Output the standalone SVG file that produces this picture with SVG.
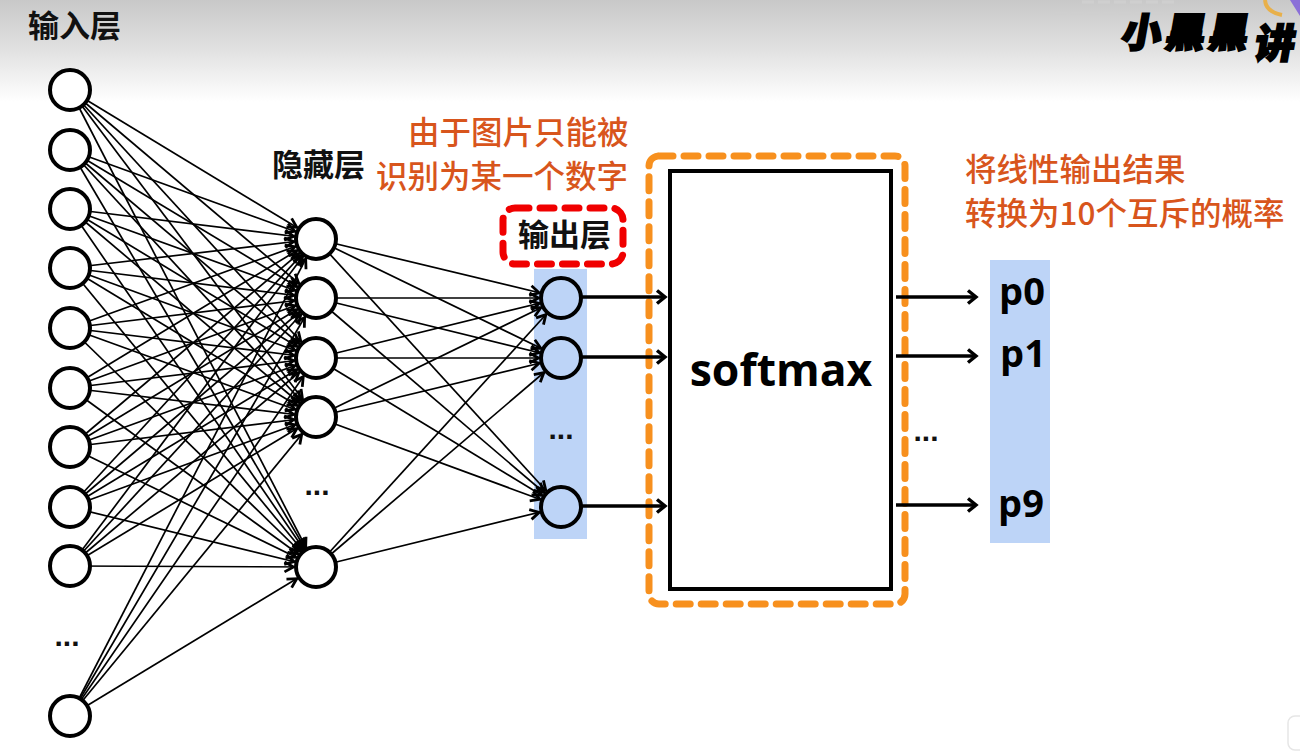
<svg xmlns="http://www.w3.org/2000/svg" width="1300" height="756" viewBox="0 0 1300 756">
<style>
.l{stroke:#000;stroke-width:1.7;fill:none;marker-end:url(#a)}
.t{stroke:#000;stroke-width:3.4;fill:none;marker-end:url(#b)}
.n{fill:#fff;stroke:#000;stroke-width:4}
.o{fill:#bdd4f7;stroke:#000;stroke-width:4}
.h{font-family:"Noto Sans CJK SC","Noto Sans",sans-serif;font-weight:700;font-size:31px;fill:#111}
.r{font-family:"Noto Sans CJK SC","Noto Sans",sans-serif;font-weight:500;font-size:31.5px;fill:#d8551c}
.p{font-family:"Open Sans","Noto Sans",sans-serif;font-weight:700;font-size:38px;fill:#000;text-anchor:middle}
.d{font-family:"Liberation Sans",sans-serif;font-weight:700;font-size:30px;fill:#111;text-anchor:middle}
.k{font-family:"Noto Sans CJK SC",sans-serif;font-weight:900;font-size:40px;fill:#000;stroke:#000;stroke-width:2}
</style>
<defs>
<linearGradient id="g" x1="0" y1="0" x2="0" y2="1"><stop offset="0" stop-color="#c8c8c8"/><stop offset="0.5" stop-color="#e2e2e2"/><stop offset="1" stop-color="#fff"/></linearGradient>
<marker id="a" markerUnits="userSpaceOnUse" viewBox="-15 -8 40 16" markerWidth="40" markerHeight="16" refX="21.5" refY="0" orient="auto"><path d="M-10,-5 L-1,0 L-10,5" fill="none" stroke="#000" stroke-width="2.8"/></marker>
<marker id="b" markerUnits="userSpaceOnUse" viewBox="-15 -10 20 20" markerWidth="20" markerHeight="20" refX="0" refY="0" orient="auto"><path d="M-8,-6.5 L0,0 L-8,6.5" fill="none" stroke="#000" stroke-width="3.4"/></marker>
</defs>
<rect width="1300" height="756" fill="#fff"/>
<rect width="1300" height="102" fill="url(#g)"/>
<rect x="534" y="269" width="53" height="270" fill="#bdd4f7"/>
<rect x="990" y="260" width="60" height="283" fill="#bdd4f7"/>
<g id="logo">
<path d="M1082,2 H1175 M1055,14 H1170" fill="none" stroke="#cfcfcf" stroke-width="3" stroke-dasharray="12 4"/>
<path d="M1265,0 Q1266,12 1282,15" fill="none" stroke="#e8b04a" stroke-width="4"/>
<path d="M1290,0 L1300,0 L1300,16 Z" fill="#8a6fd8"/>
<g transform="translate(1122,0) skewX(-10)">
<text class="k" x="6" y="46.5">小</text><text class="k" x="50" y="46.5">黑</text><text class="k" x="93" y="46.5">黑</text><text class="k" x="141" y="58">讲</text>
</g>
</g>
<g id="connectors">
<line class="l" x1="70" y1="90" x2="316" y2="239"/><line class="l" x1="70" y1="90" x2="316" y2="298"/><line class="l" x1="70" y1="90" x2="316" y2="358"/><line class="l" x1="70" y1="90" x2="316" y2="417"/><line class="l" x1="70" y1="90" x2="316" y2="567"/>
<line class="l" x1="70" y1="150" x2="316" y2="239"/><line class="l" x1="70" y1="150" x2="316" y2="298"/><line class="l" x1="70" y1="150" x2="316" y2="358"/><line class="l" x1="70" y1="150" x2="316" y2="417"/><line class="l" x1="70" y1="150" x2="316" y2="567"/>
<line class="l" x1="70" y1="209" x2="316" y2="239"/><line class="l" x1="70" y1="209" x2="316" y2="298"/><line class="l" x1="70" y1="209" x2="316" y2="358"/><line class="l" x1="70" y1="209" x2="316" y2="417"/><line class="l" x1="70" y1="209" x2="316" y2="567"/>
<line class="l" x1="70" y1="268" x2="316" y2="239"/><line class="l" x1="70" y1="268" x2="316" y2="298"/><line class="l" x1="70" y1="268" x2="316" y2="358"/><line class="l" x1="70" y1="268" x2="316" y2="417"/><line class="l" x1="70" y1="268" x2="316" y2="567"/>
<line class="l" x1="70" y1="328" x2="316" y2="239"/><line class="l" x1="70" y1="328" x2="316" y2="298"/><line class="l" x1="70" y1="328" x2="316" y2="358"/><line class="l" x1="70" y1="328" x2="316" y2="417"/><line class="l" x1="70" y1="328" x2="316" y2="567"/>
<line class="l" x1="70" y1="388" x2="316" y2="239"/><line class="l" x1="70" y1="388" x2="316" y2="298"/><line class="l" x1="70" y1="388" x2="316" y2="358"/><line class="l" x1="70" y1="388" x2="316" y2="417"/><line class="l" x1="70" y1="388" x2="316" y2="567"/>
<line class="l" x1="70" y1="447" x2="316" y2="239"/><line class="l" x1="70" y1="447" x2="316" y2="298"/><line class="l" x1="70" y1="447" x2="316" y2="358"/><line class="l" x1="70" y1="447" x2="316" y2="417"/><line class="l" x1="70" y1="447" x2="316" y2="567"/>
<line class="l" x1="70" y1="507" x2="316" y2="239"/><line class="l" x1="70" y1="507" x2="316" y2="298"/><line class="l" x1="70" y1="507" x2="316" y2="358"/><line class="l" x1="70" y1="507" x2="316" y2="417"/><line class="l" x1="70" y1="507" x2="316" y2="567"/>
<line class="l" x1="70" y1="566" x2="316" y2="239"/><line class="l" x1="70" y1="566" x2="316" y2="298"/><line class="l" x1="70" y1="566" x2="316" y2="358"/><line class="l" x1="70" y1="566" x2="316" y2="417"/><line class="l" x1="70" y1="566" x2="316" y2="567"/>
<line class="l" x1="70" y1="716" x2="316" y2="239"/><line class="l" x1="70" y1="716" x2="316" y2="298"/><line class="l" x1="70" y1="716" x2="316" y2="358"/><line class="l" x1="70" y1="716" x2="316" y2="417"/><line class="l" x1="70" y1="716" x2="316" y2="567"/>
<line class="l" x1="316" y1="239" x2="561" y2="298"/><line class="l" x1="316" y1="239" x2="561" y2="358"/><line class="l" x1="316" y1="239" x2="561" y2="507"/>
<line class="l" x1="316" y1="298" x2="561" y2="298"/><line class="l" x1="316" y1="298" x2="561" y2="358"/><line class="l" x1="316" y1="298" x2="561" y2="507"/>
<line class="l" x1="316" y1="358" x2="561" y2="298"/><line class="l" x1="316" y1="358" x2="561" y2="358"/><line class="l" x1="316" y1="358" x2="561" y2="507"/>
<line class="l" x1="316" y1="417" x2="561" y2="298"/><line class="l" x1="316" y1="417" x2="561" y2="358"/><line class="l" x1="316" y1="417" x2="561" y2="507"/>
<line class="l" x1="316" y1="567" x2="561" y2="298"/><line class="l" x1="316" y1="567" x2="561" y2="358"/><line class="l" x1="316" y1="567" x2="561" y2="507"/>
</g>
<g id="input-layer">
<circle id="i0" class="n" cx="70" cy="90" r="20"/><circle id="i1" class="n" cx="70" cy="150" r="20"/><circle id="i2" class="n" cx="70" cy="209" r="20"/><circle id="i3" class="n" cx="70" cy="268" r="20"/><circle id="i4" class="n" cx="70" cy="328" r="20"/><circle id="i5" class="n" cx="70" cy="388" r="20"/><circle id="i6" class="n" cx="70" cy="447" r="20"/><circle id="i7" class="n" cx="70" cy="507" r="20"/><circle id="i8" class="n" cx="70" cy="566" r="20"/><circle id="i9" class="n" cx="70" cy="716" r="20"/>
<text class="d" x="67" y="646">...</text>
<text class="h" x="28" y="37">输入层</text>
</g>
<g id="hidden-layer">
<circle id="h0" class="n" cx="316" cy="239" r="20"/><circle id="h1" class="n" cx="316" cy="298" r="20"/><circle id="h2" class="n" cx="316" cy="358" r="20"/><circle id="h3" class="n" cx="316" cy="417" r="20"/><circle id="h4" class="n" cx="316" cy="567" r="20"/>
<text class="d" x="317" y="495">...</text>
<text class="h" x="272" y="176">隐藏层</text>
</g>
<g id="output-layer">
<circle id="o0" class="o" cx="561" cy="298" r="20"/><circle id="o1" class="o" cx="561" cy="358" r="20"/><circle id="o2" class="o" cx="561" cy="507" r="20"/>
<text class="d" x="561" y="439">...</text>
<rect x="503" y="208" width="120" height="56" rx="12" fill="none" stroke="#f00000" stroke-width="7" stroke-dasharray="14 11" stroke-linecap="round"/>
<text class="h" x="518" y="246">输出层</text>
</g>
<g id="softmax">
<rect x="649" y="156" width="256" height="448" rx="10" fill="none" stroke="#f7901e" stroke-width="7" stroke-dasharray="14 11" stroke-linecap="round"/>
<rect x="670" y="171" width="221" height="418" fill="#fff" stroke="#000" stroke-width="4"/>
<text x="781" y="386" font-family="'Open Sans','Noto Sans',sans-serif" font-weight="700" font-size="44.5" text-anchor="middle" fill="#000">softmax</text>
</g>
<g id="arrows">
<line class="t" x1="581" y1="297" x2="665" y2="297"/><line class="t" x1="581" y1="357" x2="665" y2="357"/><line class="t" x1="581" y1="506" x2="665" y2="506"/>
<line class="t" x1="896" y1="297" x2="976" y2="297"/><line class="t" x1="896" y1="356" x2="976" y2="356"/><line class="t" x1="896" y1="505" x2="976" y2="505"/>
</g>
<g id="probabilities">
<text class="p" x="1022" y="305">p0</text><text class="p" x="1023" y="367">p1</text><text class="p" x="1021" y="517">p9</text>
<text class="d" x="926" y="441">...</text>
</g>
<g id="notes">
<text class="r" x="408" y="144">由于图片只能被</text>
<text class="r" x="376" y="188">识别为某一个数字</text>
<text class="r" x="965" y="181">将线性输出结果</text>
<text class="r" x="965" y="225">转换为10个互斥的概率</text>
</g>
<rect x="1288" y="716" width="30" height="34" rx="7" fill="#fff" stroke="#e6e6e6" stroke-width="1.5"/>
</svg>
